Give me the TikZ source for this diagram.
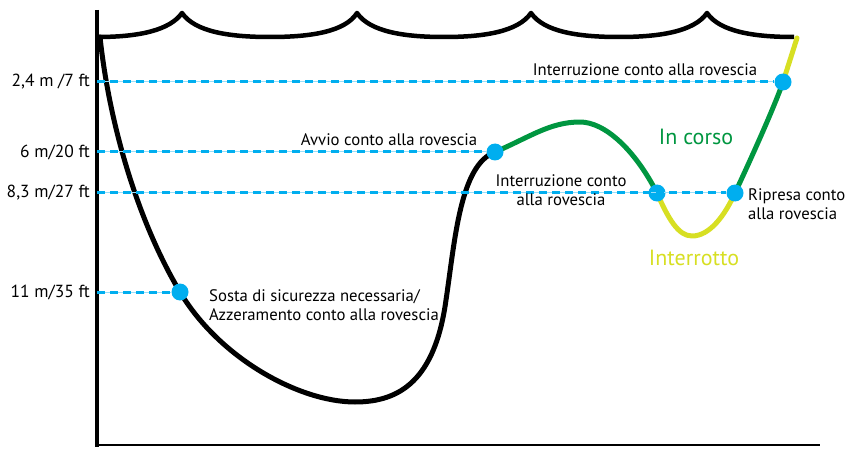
\documentclass[tikz,border=0pt]{standalone}
\usepackage{fontspec}
\setmainfont{PT Sans}
\usetikzlibrary{positioning}
\definecolor{dotblue}{RGB}{0,174,239}
\definecolor{runGreen}{RGB}{0,150,64}
\definecolor{stopYellow}{RGB}{215,223,35}

\begin{document}
\begin{tikzpicture}[x=1pt,y=-1pt,
	lbl/.style={font=\fontsize{16.7}{18}\selectfont,inner sep=0pt},
	depth/.style={font=\fontsize{17.5}{19}\selectfont,inner sep=0pt,anchor=east},
	state/.style={font=\fontsize{22}{24}\selectfont,inner sep=0pt},
	stop/.style={circle,fill=dotblue,inner sep=0pt,minimum size=17pt},
	level/.style={dotblue,line width=3pt,dash pattern=on 8pt off 5pt},
	profile/.style={line width=5pt,line cap=round,line join=round}]
	\useasboundingbox (0,0) rectangle (848,449);
	% axes and surface
	\draw[line width=4pt] (97,10) -- (97,447);
	\draw[line width=2.5pt] (97,445) -- (820,445);
	\draw[line width=4.5pt,line join=round] (97,37) .. controls (140,37) and (170,30) .. (182,13)
		.. controls (195,32) and (230,37) .. (270,37) .. controls (310,37) and (345,32) .. (357,13)
		.. controls (370,32) and (405,37) .. (444,37) .. controls (483,37) and (518,32) .. (531,13)
		.. controls (544,32) and (579,37) .. (619,37) .. controls (658,37) and (694,32) .. (707,13)
		.. controls (720,32) and (755,37) .. (794,37);
	% dive profile
	\draw[profile] (100,37) .. controls (110,130) and (140,225) .. (180,292)
		.. controls (220,359) and (300,402) .. (355,402)
		.. controls (400,402) and (435,380) .. (446,300)
		.. controls (455,240) and (460,165) .. (495,152);
	\draw[profile,runGreen] (495,152) .. controls (530,137) and (550,122) .. (580,122)
		.. controls (605,122) and (635,150) .. (657,193);
	\draw[profile,stopYellow] (657,193) .. controls (668,218) and (678,236) .. (692,236)
		.. controls (710,236) and (725,215) .. (735,193);
	\draw[profile,runGreen] (735,193) .. controls (755,150) and (775,105) .. (783,82);
	\draw[profile,stopYellow] (783,82) -- (797,38);
	% stops on the profile
	\node[stop] (pause1) at (783,82) {};
	\node[stop] (start) at (495,152) {};
	\node[stop] (pause2) at (657,193) {};
	\node[stop] (resume) at (735,193) {};
	\node[stop] (safety) at (180,292) {};
	% depth marks
	\node[depth] (d24) at (90,82) {2,4 m /7 ft};
	\node[depth] (d6) at (90,152) {6 m/20 ft};
	\node[depth] (d83) at (90,193) {8,3 m/27 ft};
	\node[depth] (d11) at (90,292) {11 m/35 ft};
	\coordinate (a24) at (97,82);
	\coordinate (a6) at (97,152);
	\coordinate (a83) at (97,193);
	\coordinate (a11) at (97,292);
	\foreach \a/\b in {a24/pause1,a6/start,a83/resume,a11/safety}{
		\draw[dotblue!40,line width=1pt] (\a) -- (\b);
		\draw[level] (\a) -- (\b);
	}
	% labels
	\node[lbl] (t1) at (645,70) {Interruzione conto alla rovescia};
	\node[lbl] (t2) at (389,140) {Avvio conto alla rovescia};
	\node[lbl,align=center] (t3) at (561,190) {Interruzione conto\\[1pt]alla rovescia};
	\node[lbl,align=left,anchor=west] (t4) at (748,204) {Ripresa conto\\[1pt]alla rovescia};
	\node[lbl,align=left,anchor=west] (t5) at (209,305) {Sosta di sicurezza necessaria/\\[1pt]Azzeramento conto alla rovescia};
	\node[state,runGreen] (run) at (696,137) {In corso};
	\node[state,stopYellow] (halt) at (694,258) {Interrotto};
\end{tikzpicture}
\end{document}
